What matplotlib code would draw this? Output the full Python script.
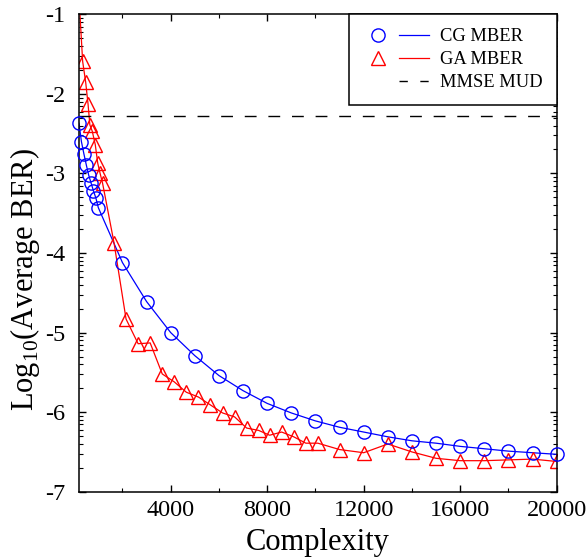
import matplotlib
matplotlib.use('Agg')
import matplotlib.pyplot as plt
import numpy as np
from matplotlib.lines import Line2D
from matplotlib.legend_handler import HandlerTuple
from matplotlib.ticker import FixedLocator, MultipleLocator

plt.rcParams['font.family'] = ['Liberation Serif', 'DejaVu Serif']
plt.rcParams['mathtext.fontset'] = 'custom'
plt.rcParams['mathtext.rm'] = 'Liberation Serif'
plt.rcParams['axes.unicode_minus'] = False

# CG MBER
cg_x = [200, 300, 400, 500, 600, 700, 800, 900, 1000,
        2000, 3000, 4000, 5000, 6000, 7000, 8000, 9000, 10000, 11000,
        12000, 13000, 14000, 15000, 16000, 17000, 18000, 19000, 20000]
cg_y = [-2.37, -2.60, -2.75, -2.89, -3.02, -3.12, -3.22, -3.31, -3.43,
        -4.12, -4.61, -5.00, -5.29, -5.54, -5.73, -5.89, -6.01, -6.11, -6.19,
        -6.25, -6.31, -6.36, -6.39, -6.43, -6.46, -6.49, -6.51, -6.53]

# GA MBER
ga_x = [200, 350, 475, 575, 650, 750, 875, 975, 1075, 1175, 1650,
        2150, 2650, 3150, 3650, 4150, 4650, 5150, 5650, 6150, 6650, 7150, 7650,
        8100, 8600, 9100, 9600, 10100,
        11000, 12000, 13000, 14000, 15000, 16000, 17000, 18000, 19000, 20000]
ga_y = [-0.79, -1.59, -1.85, -2.13, -2.39, -2.47, -2.64, -2.87, -3.00, -3.12, -3.87,
        -4.83, -5.14, -5.13, -5.52, -5.62, -5.75, -5.81, -5.91, -6.01, -6.06, -6.20, -6.23,
        -6.29, -6.25, -6.31, -6.39, -6.39,
        -6.47, -6.51, -6.40, -6.50, -6.58, -6.61, -6.61, -6.60, -6.59, -6.62]

# MMSE MUD level
mmse_y = -2.28

x_major = [4000, 8000, 12000, 16000, 20000]
y_major = [-7, -6, -5, -4, -3, -2, -1]

fig = plt.figure(figsize=(5.87, 5.57), dpi=100)
ax = fig.add_axes([0.1346, 0.1172, 0.8138, 0.8571])

blue = '#0000ff'
red = '#ff0000'
ms = 9.5

ax.plot(cg_x, cg_y, color=blue, lw=0.9)
ax.plot(cg_x, cg_y, ls='none', marker='o', ms=ms, mfc='none', mec=blue, mew=1.0,
        clip_on=False, zorder=3)
ax.plot(ga_x, ga_y, color=red, lw=0.9)
ax.plot(ga_x, ga_y, ls='none', marker='^', ms=ms, mfc='none', mec=red, mew=1.0)
ax.axhline(mmse_y, color='black', lw=1.0, dashes=(8.5, 8.5))

ax.set_xlim(200, 20000)
ax.set_ylim(-7, -1)

ax.xaxis.set_major_locator(FixedLocator(x_major))
ax.xaxis.set_minor_locator(MultipleLocator(2000))
ax.yaxis.set_major_locator(FixedLocator(y_major))
y_minor = [d + np.log10(k) for d in range(-7, -1) for k in range(2, 10)]
ax.yaxis.set_minor_locator(FixedLocator(y_minor))
ax.set_yticklabels(['%d' % v for v in y_major])

ax.tick_params(which='both', direction='in', top=True, right=True, labelsize=17.5)
ax.tick_params(which='major', length=5, width=1.0)
ax.tick_params(which='minor', length=3, width=0.8)
ax.tick_params(axis='x', pad=6)
ax.tick_params(axis='y', pad=10)
for s in ax.spines.values():
    s.set_linewidth(1.1)

ax.set_xlabel('Complexity', fontsize=22, va='center')
ax.xaxis.set_label_coords(0.5, -0.107)
ax.set_ylabel('Log$_{10}$(Average BER)', fontsize=22, va='center')
ax.yaxis.set_label_coords(-0.113, 0.4445)

h_cg = (Line2D([], [], ls='none', marker='o', ms=ms, mfc='none', mec=blue, mew=1.0),
        Line2D([], [], color=blue, lw=0.9))
h_ga = (Line2D([], [], ls='none', marker='^', ms=ms, mfc='none', mec=red, mew=1.0),
        Line2D([], [], color=red, lw=0.9))
h_mm = (Line2D([], [], ls='none'),
        Line2D([], [], color='black', lw=1.0, dashes=(6, 9)))
leg = ax.legend([h_cg, h_ga, h_mm], ['CG MBER', 'GA MBER', 'MMSE MUD'],
                handler_map={tuple: HandlerTuple(ndivide=None, pad=0.38)},
                loc='upper right', bbox_to_anchor=(1, 1), borderaxespad=0,
                fontsize=13.3, numpoints=1, handlelength=3.6, handletextpad=0.6,
                labelspacing=0.33, borderpad=0.75, fancybox=False,
                edgecolor='black', framealpha=1)
leg.get_frame().set_linewidth(1.1)
leg.set_zorder(5)

fig.savefig('out.png', dpi=100)
